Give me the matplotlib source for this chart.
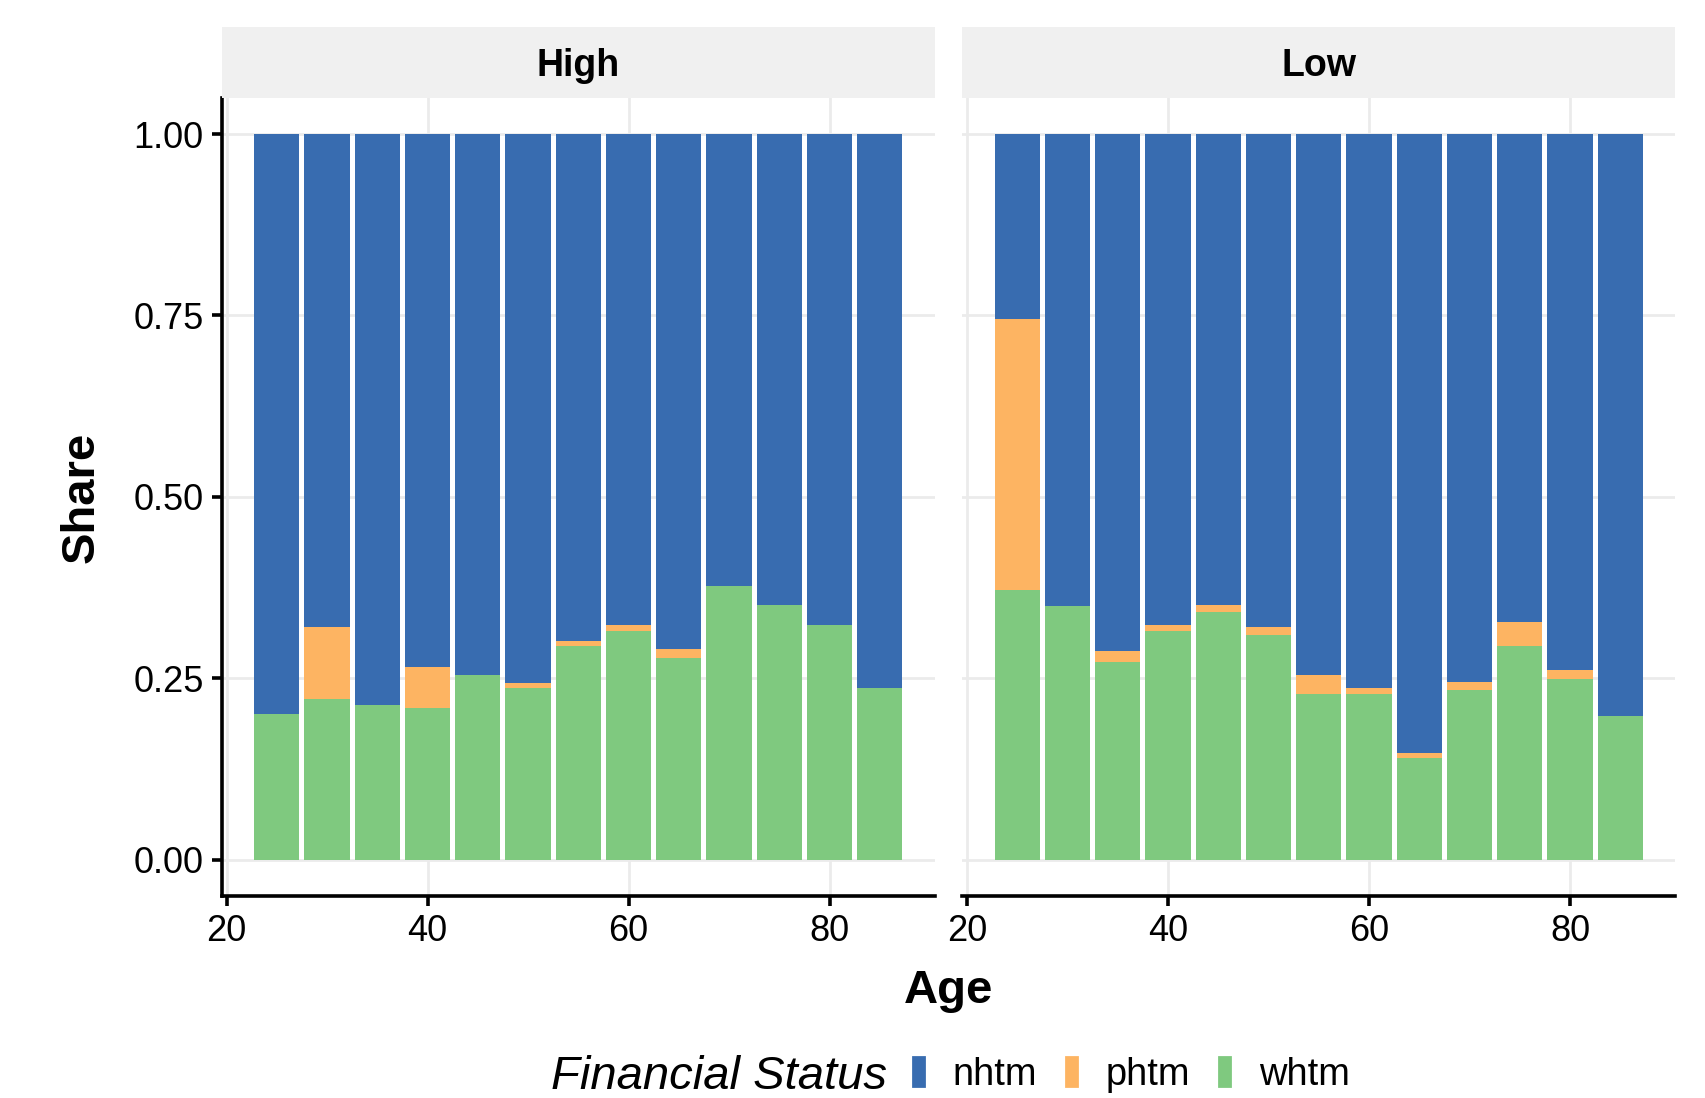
import numpy as np
import matplotlib
matplotlib.use("Agg")
import matplotlib.pyplot as plt
from matplotlib.patches import Patch

plt.rcParams['font.family'] = ['Liberation Sans', 'DejaVu Sans']

ages = [25, 30, 35, 40, 45, 50, 55, 60, 65, 70, 75, 80, 85]
groups = ['High', 'Low']

# share of each status per age bin
whtm_high = [0.201, 0.222, 0.213, 0.209, 0.255, 0.237, 0.294, 0.315, 0.278, 0.377, 0.351, 0.324, 0.237]
phtm_high = [0.000, 0.098, 0.000, 0.057, 0.000, 0.006, 0.008, 0.008, 0.012, 0.000, 0.000, 0.000, 0.000]
whtm_low = [0.372, 0.350, 0.272, 0.315, 0.341, 0.309, 0.228, 0.228, 0.140, 0.234, 0.294, 0.249, 0.198]
phtm_low = [0.373, 0.000, 0.015, 0.009, 0.010, 0.011, 0.026, 0.009, 0.007, 0.011, 0.033, 0.012, 0.000]

colors = {'nhtm': '#386CB0', 'phtm': '#FDB462', 'whtm': '#7FC97F'}

fig = plt.figure(figsize=(8.53, 5.49), dpi=200)

panels = [(0.130, whtm_high, phtm_high), (0.564, whtm_low, phtm_low)]
pw = 0.418
bottom, top = 0.184, 0.911

for k, (left, whtm, phtm) in enumerate(panels):
    ax = fig.add_axes([left, bottom, pw, top - bottom])
    whtm = np.array(whtm)
    phtm = np.array(phtm)
    nhtm = 1 - whtm - phtm
    ax.bar(ages, whtm, width=4.5, color=colors['whtm'], zorder=2)
    ax.bar(ages, phtm, width=4.5, bottom=whtm, color=colors['phtm'], zorder=2)
    ax.bar(ages, nhtm, width=4.5, bottom=whtm + phtm, color=colors['nhtm'], zorder=2)

    ax.set_xlim(19.525, 90.475)
    ax.set_ylim(-0.05, 1.05)
    ax.set_xticks([20, 40, 60, 80])
    ax.set_yticks([0, 0.25, 0.5, 0.75, 1.0])
    ax.grid(True, color='#EBEBEB', linewidth=1.0, zorder=0)
    ax.set_axisbelow(True)
    for s in ['top', 'right']:
        ax.spines[s].set_visible(False)
    ax.spines['bottom'].set_linewidth(1.3)
    ax.spines['left'].set_linewidth(1.3)
    ax.tick_params(axis='both', length=3.5, width=1.3, colors='black', labelsize=13, pad=3)
    if k == 0:
        ax.set_yticklabels(['0.00', '0.25', '0.50', '0.75', '1.00'])
    else:
        ax.spines['left'].set_visible(False)
        ax.tick_params(axis='y', left=False, labelleft=False)

    # facet strip
    sax = fig.add_axes([left, top, pw, 0.975 - top])
    sax.set_facecolor('#F0F0F0')
    sax.set_xticks([])
    sax.set_yticks([])
    for s in sax.spines.values():
        s.set_visible(False)
    sax.text(0.5, 0.45, groups[k], ha='center', va='center', fontsize=13.5,
             fontweight='bold', transform=sax.transAxes)

fig.text(0.048, 0.547, 'Share', ha='center', va='center', rotation=90, fontsize=17, fontweight='bold')
fig.text(0.556, 0.097, 'Age', ha='center', va='center', fontsize=17, fontweight='bold')

fig.text(0.520, 0.019, 'Financial Status', ha='right', va='center', fontsize=17, style='italic')
handles = [Patch(color=colors[s]) for s in ['nhtm', 'phtm', 'whtm']]
fig.legend(handles, ['nhtm', 'phtm', 'whtm'], loc='center left', bbox_to_anchor=(0.535, 0.021),
           ncol=3, frameon=False, fontsize=13.7, handlelength=0.3, handleheight=0.8,
           handletextpad=0.75, columnspacing=0.75, borderaxespad=0, borderpad=0)

fig.savefig('out.png', dpi=200)
